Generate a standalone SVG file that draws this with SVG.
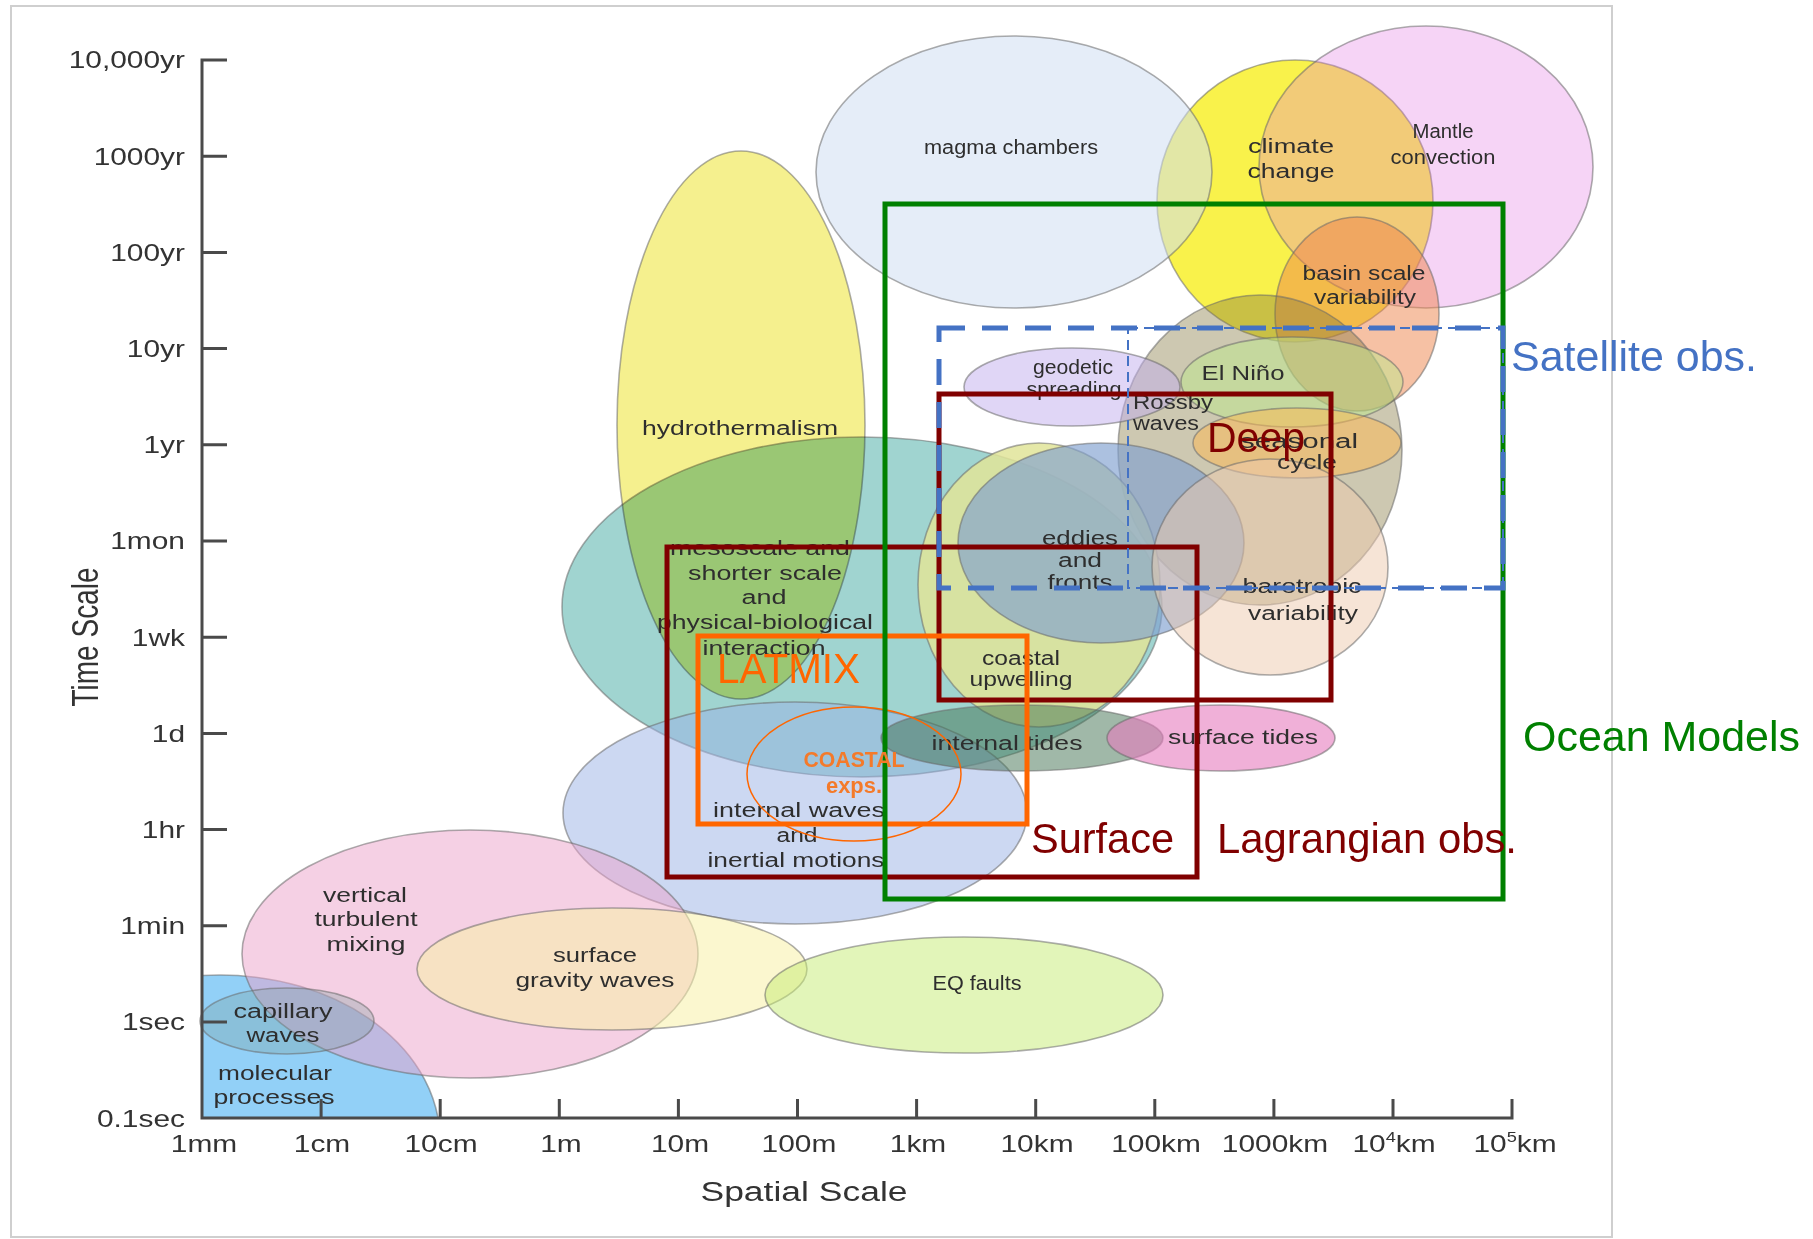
<svg xmlns="http://www.w3.org/2000/svg" width="1813" height="1239" viewBox="0 0 1813 1239">
<style>
.ax{stroke:#4a4a4a;stroke-width:3;fill:none}
.al{font-family:"Liberation Sans",Arial,sans-serif;font-size:23px;fill:#333333}
.lb{font-family:"Liberation Sans",Arial,sans-serif;font-size:20px;fill:#2e2e2e;text-anchor:middle}
.el{stroke:#6a6a6a;stroke-opacity:.55;stroke-width:1.6}
.big{font-family:"Liberation Sans",Arial,sans-serif;font-size:42px}
.box{fill:none;stroke-width:5}
</style>
<defs>
<clipPath id="quad"><rect x="202" y="0" width="600" height="1118"/></clipPath>
</defs>
<rect x="0" y="0" width="1813" height="1239" fill="#ffffff"/>
<rect x="11" y="6" width="1601" height="1231" fill="#ffffff" stroke="#cfcfcf" stroke-width="2"/>

<g id="regions">
<ellipse id="climate-change" class="el" cx="1295" cy="201" rx="138" ry="141" fill="#f8f02c" fill-opacity=".85"/>
<ellipse id="magma-chambers" class="el" cx="1014" cy="172" rx="198" ry="136" fill="#d0dff2" fill-opacity=".55"/>
<ellipse id="mantle-convection" class="el" cx="1426" cy="167" rx="167" ry="141" fill="#e170e1" fill-opacity=".3"/>
<ellipse id="basin-scale" class="el" cx="1357" cy="314" rx="82" ry="97" fill="#ee844a" fill-opacity=".5"/>
<ellipse id="rossby" class="el" cx="1260" cy="450" rx="142" ry="155" fill="#82763c" fill-opacity=".4"/>
<ellipse id="el-nino" class="el" cx="1292" cy="382" rx="111" ry="45" fill="#bde88c" fill-opacity=".5"/>
<ellipse id="seasonal" class="el" cx="1297" cy="443" rx="104" ry="35" fill="#ffb850" fill-opacity=".5"/>
<ellipse id="geodetic" class="el" cx="1072" cy="387" rx="108" ry="39" fill="#c1aded" fill-opacity=".5"/>
<ellipse id="mesoscale" class="el" cx="862" cy="607" rx="300" ry="170" fill="#41a9a1" fill-opacity=".5"/>
<ellipse id="hydrothermalism" class="el" cx="741" cy="425" rx="124" ry="274" fill="#f5f08e" style="mix-blend-mode:multiply"/>
<ellipse id="internal-waves" class="el" cx="795" cy="813" rx="232" ry="111" fill="#99b1e5" fill-opacity=".5"/>
<ellipse id="coastal-upwelling" class="el" cx="1039" cy="585" rx="121" ry="142" fill="#e0e499" fill-opacity=".85"/>
<ellipse id="eddies" class="el" cx="1101" cy="543" rx="143" ry="100" fill="#7f9fd0" fill-opacity=".65"/>
<ellipse id="barotropic" class="el" cx="1270" cy="567" rx="118" ry="108" fill="#edc9ad" fill-opacity=".5"/>
<ellipse id="internal-tides" class="el" cx="1022" cy="738" rx="141" ry="33" fill="#417151" fill-opacity=".5"/>
<ellipse id="surface-tides" class="el" cx="1221" cy="738" rx="114" ry="33" fill="#e67bbe" fill-opacity=".6"/>
<ellipse id="molecular" class="el" cx="220" cy="1140" rx="220" ry="165" fill="#92d0f7" clip-path="url(#quad)"/>
<ellipse id="vertical-mixing" class="el" cx="470" cy="954" rx="228" ry="124" fill="#eba1c9" fill-opacity=".5"/>
<ellipse id="gravity-waves" class="el" cx="612" cy="969" rx="195" ry="61" fill="#f8f0a8" fill-opacity=".55"/>
<ellipse id="capillary" class="el" cx="287" cy="1021" rx="87" ry="33" fill="#7aa0a0" fill-opacity=".32"/>
<ellipse id="eq-faults" class="el" cx="964" cy="995" rx="199" ry="58" fill="#c5eb73" fill-opacity=".5"/>
</g>

<g id="region-labels">
<text class="lb" x="1011" y="154" textLength="174" lengthAdjust="spacingAndGlyphs">magma chambers</text>
<text class="lb" x="1291" y="153" textLength="86" lengthAdjust="spacingAndGlyphs">climate</text>
<text class="lb" x="1291" y="178" textLength="87" lengthAdjust="spacingAndGlyphs">change</text>
<text class="lb" x="1443" y="138" textLength="61" lengthAdjust="spacingAndGlyphs">Mantle</text>
<text class="lb" x="1443" y="164" textLength="105" lengthAdjust="spacingAndGlyphs">convection</text>
<text class="lb" x="1364" y="280" textLength="123" lengthAdjust="spacingAndGlyphs">basin scale</text>
<text class="lb" x="1365" y="304" textLength="102" lengthAdjust="spacingAndGlyphs">variability</text>
<text class="lb" x="1243" y="380" textLength="83" lengthAdjust="spacingAndGlyphs">El Niño</text>
<text class="lb" x="1073" y="374" textLength="80" lengthAdjust="spacingAndGlyphs">geodetic</text>
<text class="lb" x="1074" y="396" textLength="95" lengthAdjust="spacingAndGlyphs">spreading</text>
<text class="lb" x="1133" y="409" textLength="80" lengthAdjust="spacingAndGlyphs" style="text-anchor:start">Rossby</text>
<text class="lb" x="1133" y="430" textLength="66" lengthAdjust="spacingAndGlyphs" style="text-anchor:start">waves</text>
<text class="lb" x="1299" y="448" textLength="118" lengthAdjust="spacingAndGlyphs">seasonal</text>
<text class="lb" x="1307" y="469" textLength="60" lengthAdjust="spacingAndGlyphs">cycle</text>
<text class="lb" x="1080" y="545" textLength="76" lengthAdjust="spacingAndGlyphs">eddies</text>
<text class="lb" x="1080" y="567" textLength="44" lengthAdjust="spacingAndGlyphs">and</text>
<text class="lb" x="1080" y="589" textLength="65" lengthAdjust="spacingAndGlyphs">fronts</text>
<text class="lb" x="1302" y="593" textLength="119" lengthAdjust="spacingAndGlyphs">barotropic</text>
<text class="lb" x="1303" y="620" textLength="110" lengthAdjust="spacingAndGlyphs">variability</text>
<text class="lb" x="1021" y="665" textLength="78" lengthAdjust="spacingAndGlyphs">coastal</text>
<text class="lb" x="1021" y="686" textLength="103" lengthAdjust="spacingAndGlyphs">upwelling</text>
<text class="lb" x="1007" y="750" textLength="151" lengthAdjust="spacingAndGlyphs">internal tides</text>
<text class="lb" x="1243" y="744" textLength="150" lengthAdjust="spacingAndGlyphs">surface tides</text>
<text class="lb" x="740" y="435" textLength="196" lengthAdjust="spacingAndGlyphs">hydrothermalism</text>
<text class="lb" x="760" y="555" textLength="180" lengthAdjust="spacingAndGlyphs">mesoscale and</text>
<text class="lb" x="765" y="580" textLength="154" lengthAdjust="spacingAndGlyphs">shorter scale</text>
<text class="lb" x="764" y="604" textLength="45" lengthAdjust="spacingAndGlyphs">and</text>
<text class="lb" x="765" y="629" textLength="216" lengthAdjust="spacingAndGlyphs">physical-biological</text>
<text class="lb" x="764" y="655" textLength="123" lengthAdjust="spacingAndGlyphs">interaction</text>
<text class="lb" x="799" y="817" textLength="172" lengthAdjust="spacingAndGlyphs">internal waves</text>
<text class="lb" x="797" y="842" textLength="41" lengthAdjust="spacingAndGlyphs">and</text>
<text class="lb" x="796" y="867" textLength="177" lengthAdjust="spacingAndGlyphs">inertial motions</text>
<text class="lb" x="365" y="902" textLength="84" lengthAdjust="spacingAndGlyphs">vertical</text>
<text class="lb" x="366" y="926" textLength="103" lengthAdjust="spacingAndGlyphs">turbulent</text>
<text class="lb" x="366" y="951" textLength="79" lengthAdjust="spacingAndGlyphs">mixing</text>
<text class="lb" x="595" y="962" textLength="84" lengthAdjust="spacingAndGlyphs">surface</text>
<text class="lb" x="595" y="987" textLength="159" lengthAdjust="spacingAndGlyphs">gravity waves</text>
<text class="lb" x="977" y="990" textLength="89" lengthAdjust="spacingAndGlyphs">EQ faults</text>
<text class="lb" x="283" y="1018" textLength="99" lengthAdjust="spacingAndGlyphs">capillary</text>
<text class="lb" x="283" y="1042" textLength="73" lengthAdjust="spacingAndGlyphs">waves</text>
<text class="lb" x="275" y="1080" textLength="114" lengthAdjust="spacingAndGlyphs">molecular</text>
<text class="lb" x="274" y="1104" textLength="121" lengthAdjust="spacingAndGlyphs">processes</text>
</g>

<g id="axes">
<path class="ax" d="M227 60H202V1118H1512V1099"/>
<path class="ax" d="M202 156.2h25M202 252.4h25M202 348.6h25M202 444.8h25M202 541h25M202 637.2h25M202 733.4h25M202 829.6h25M202 925.8h25M202 1022h25"/>
<path class="ax" d="M321.1 1118v-19M440.2 1118v-19M559.3 1118v-19M678.4 1118v-19M797.5 1118v-19M916.6 1118v-19M1035.7 1118v-19M1154.8 1118v-19M1273.9 1118v-19M1393 1118v-19"/>
<g class="al" text-anchor="end">
<text transform="translate(185 68.3) scale(1.3 1)">10,000yr</text>
<text transform="translate(185 164.5) scale(1.3 1)">1000yr</text>
<text transform="translate(185 260.7) scale(1.3 1)">100yr</text>
<text transform="translate(185 356.9) scale(1.3 1)">10yr</text>
<text transform="translate(185 453.1) scale(1.3 1)">1yr</text>
<text transform="translate(185 549.3) scale(1.3 1)">1mon</text>
<text transform="translate(185 645.5) scale(1.3 1)">1wk</text>
<text transform="translate(185 741.7) scale(1.3 1)">1d</text>
<text transform="translate(185 837.9) scale(1.3 1)">1hr</text>
<text transform="translate(185 934.1) scale(1.3 1)">1min</text>
<text transform="translate(185 1030.3) scale(1.3 1)">1sec</text>
<text transform="translate(185 1126.5) scale(1.3 1)">0.1sec</text>
</g>
<g class="al" text-anchor="middle">
<text transform="translate(204 1152) scale(1.3 1)">1mm</text>
<text transform="translate(322 1152) scale(1.3 1)">1cm</text>
<text transform="translate(441 1152) scale(1.3 1)">10cm</text>
<text transform="translate(561 1152) scale(1.3 1)">1m</text>
<text transform="translate(680 1152) scale(1.3 1)">10m</text>
<text transform="translate(799 1152) scale(1.3 1)">100m</text>
<text transform="translate(918 1152) scale(1.3 1)">1km</text>
<text transform="translate(1037 1152) scale(1.3 1)">10km</text>
<text transform="translate(1156 1152) scale(1.3 1)">100km</text>
<text transform="translate(1275 1152) scale(1.3 1)">1000km</text>
<text transform="translate(1394 1152) scale(1.3 1)">10<tspan font-size="14" dy="-10">4</tspan><tspan dy="10">km</tspan></text>
<text transform="translate(1515 1152) scale(1.3 1)">10<tspan font-size="14" dy="-10">5</tspan><tspan dy="10">km</tspan></text>
</g>
<text class="al" style="font-size:28px" text-anchor="middle" transform="translate(98 637) scale(1.35 1) rotate(-90)">Time Scale</text>
<text class="al" style="font-size:27px" text-anchor="middle" x="804" y="1201" textLength="207" lengthAdjust="spacingAndGlyphs">Spatial Scale</text>
</g>

<g id="connectors">
<rect id="surface-box" class="box" x="667" y="547" width="530" height="330" stroke="#800000"/>
<rect id="deep-box" class="box" x="939" y="394" width="392" height="306" stroke="#800000"/>
<rect id="latmix-box" class="box" x="698" y="636" width="329" height="188" stroke="#ff6600" stroke-width="6"/>
<ellipse id="coastal-exps" cx="854" cy="774" rx="107" ry="67" fill="none" stroke="#ff6600" stroke-width="1.5"/>
<rect id="ocean-models-box" class="box" x="885" y="204" width="618" height="695" stroke="#008000"/>
<rect id="satellite-inner" x="1128" y="328" width="375" height="260" fill="none" stroke="#4472c4" stroke-width="2" stroke-dasharray="10 6"/>
<rect id="satellite-box" class="box" x="939" y="328" width="564" height="260" stroke="#4472c4" stroke-dasharray="26 17"/>
</g>

<g id="overlay-labels" class="big">
<text x="1511" y="371" fill="#4472c4" textLength="246" lengthAdjust="spacingAndGlyphs">Satellite obs.</text>
<text x="1523" y="751" fill="#008000" textLength="277" lengthAdjust="spacingAndGlyphs">Ocean Models</text>
<text x="1207" y="452" fill="#800000" textLength="98" lengthAdjust="spacingAndGlyphs">Deep</text>
<text x="1031" y="853" fill="#800000" textLength="143" lengthAdjust="spacingAndGlyphs">Surface</text>
<text x="1217" y="853" fill="#800000" textLength="300" lengthAdjust="spacingAndGlyphs">Lagrangian obs.</text>
<text x="717" y="683" fill="#ff6600" textLength="143" lengthAdjust="spacingAndGlyphs">LATMIX</text>
<text x="854" y="767" fill="#f47a2a" font-size="22" font-weight="bold" text-anchor="middle" textLength="101" lengthAdjust="spacingAndGlyphs">COASTAL</text>
<text x="854" y="793" fill="#f47a2a" font-size="22" font-weight="bold" text-anchor="middle" textLength="56" lengthAdjust="spacingAndGlyphs">exps.</text>
</g>
</svg>
